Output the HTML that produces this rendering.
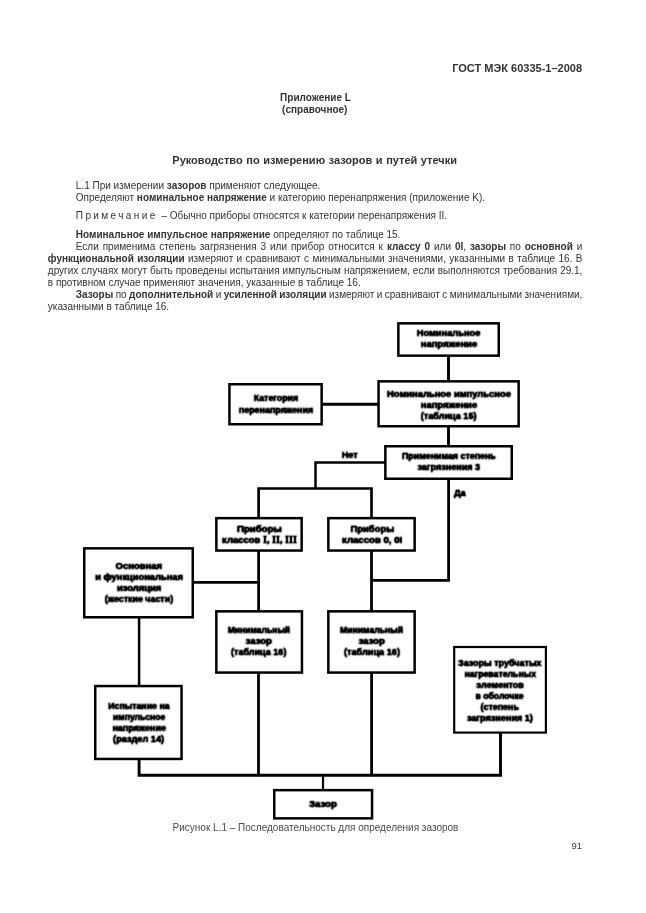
<!DOCTYPE html>
<html lang="ru"><head><meta charset="utf-8"><title>ГОСТ МЭК 60335-1–2008</title>
<style>
html,body{margin:0;padding:0;background:#fff;}
body{width:646px;height:913px;position:relative;overflow:hidden;font-family:"Liberation Sans",sans-serif;}
.t{position:absolute;white-space:nowrap;line-height:12px;}
#pg{position:absolute;left:0;top:0;width:646px;height:913px;will-change:transform;}
svg{position:absolute;left:0;top:0;}
svg rect,svg path{fill:none;stroke:#000;stroke-width:2.5;stroke-linecap:butt;stroke-linejoin:miter;}
svg text{font-family:"Liberation Sans",sans-serif;font-weight:bold;font-size:9.35px;fill:#000;stroke:#000;stroke-width:0.45px;}

svg .sr{font-family:"Liberation Serif",serif;font-size:10px;}
</style></head><body><div id="pg">
<div class="t" style="left:452.2px;top:61.59px;font-size:11px;color:#333;font-weight:bold;">ГОСТ МЭК 60335-1–2008</div>
<div class="t" style="left:280.1px;top:92.34px;font-size:10px;color:#333;font-weight:bold;">Приложение L</div>
<div class="t" style="left:282.1px;top:103.53px;font-size:10px;color:#333;font-weight:bold;">(справочное)</div>
<div class="t" style="left:172.3px;top:153.99px;font-size:11px;color:#333;font-weight:bold;word-spacing:0.500px;">Руководство по измерению зазоров и путей утечки</div>
<div class="t" style="left:75.8px;top:180.24px;font-size:10px;color:#333;">L.1 При измерении <b>зазоров</b> применяют следующее.</div>
<div class="t" style="left:75.8px;top:192.13px;font-size:10px;color:#333;">Определяют <b>номинальное напряжение</b> и категорию перенапряжения (приложение K).</div>
<div class="t" style="left:75.8px;top:209.94px;font-size:10px;color:#333;"><span style="letter-spacing:2.4px;margin-right:1px">Примечание</span> – Обычно приборы относятся к категории перенапряжения II.</div>
<div class="t" style="left:75.8px;top:228.74px;font-size:10px;color:#333;"><b>Номинальное импульсное напряжение</b> определяют по таблице 15.</div>
<div class="t" style="left:75.8px;top:241.03px;font-size:10px;color:#333;word-spacing:1.125px;">Если применима степень загрязнения 3 или прибор относится к <b>классу 0</b> или <b>0I</b>, <b>зазоры</b> по <b>основной</b> и</div>
<div class="t" style="left:47.8px;top:253.03px;font-size:10px;color:#333;word-spacing:0.575px;"><b>функциональной изоляции</b> измеряют и сравнивают с минимальными значениями, указанными в таблице 16. В</div>
<div class="t" style="left:47.8px;top:264.94px;font-size:10px;color:#333;word-spacing:0.218px;">других случаях могут быть проведены испытания импульсным напряжением, если выполняются требования 29.1,</div>
<div class="t" style="left:47.8px;top:276.94px;font-size:10px;color:#333;">в противном случае применяют значения, указанные в таблице 16.</div>
<div class="t" style="left:75.8px;top:289.13px;font-size:10px;color:#333;word-spacing:-0.359px;"><b>Зазоры</b> по <b>дополнительной</b> и <b>усиленной изоляции</b> измеряют и сравнивают с минимальными значениями,</div>
<div class="t" style="left:47.8px;top:301.04px;font-size:10px;color:#333;">указанными в таблице 16.</div>
<div class="t" style="left:172.6px;top:822.03px;font-size:10px;color:#4a4a4a;">Рисунок L.1 – Последовательность для определения зазоров</div>
<div class="t" style="left:571.5px;top:840.31px;font-size:9.5px;color:#3a3a3a;">91</div>
<svg width="646" height="913" viewBox="0 0 646 913">
<rect x="398.35" y="323.35" width="100.40" height="32.30"/>
<rect x="378.55" y="381.35" width="140.10" height="44.90"/>
<rect x="229.45" y="384.25" width="92.20" height="40.00"/>
<rect x="385.35" y="446.25" width="126.40" height="32.50"/>
<rect x="216.35" y="518.15" width="85.30" height="32.40"/>
<rect x="328.35" y="518.15" width="86.30" height="32.40"/>
<rect x="84.25" y="548.35" width="108.50" height="68.90"/>
<rect x="216.35" y="611.35" width="85.60" height="61.20"/>
<rect x="328.35" y="611.35" width="86.30" height="61.20"/>
<rect x="454.20" y="647.00" width="91.70" height="85.60" style="stroke-width:2.2"/>
<rect x="95.25" y="686.05" width="86.30" height="72.90"/>
<rect x="274.25" y="790.15" width="97.80" height="28.20"/>
<path d="M448.5 356L448.5 381" style="stroke-width:2.9"/>
<path d="M448.5 427L448.5 446" style="stroke-width:2.9"/>
<path d="M322 404.3L378 404.3" style="stroke-width:2.9"/>
<path d="M385 462.5L315.5 462.5L315.5 488.4"/>
<path d="M258.6 517.5L258.6 488.5L371.5 488.5L371.5 517.5" style="stroke-width:2.7"/>
<path d="M448.6 479L448.6 580.3L371.5 580.3" style="stroke-width:2.8"/>
<path d="M193 582.4L258.6 582.4" style="stroke-width:2.8"/>
<path d="M258.6 551L258.6 611" style="stroke-width:2.8"/>
<path d="M371.5 551L371.5 611" style="stroke-width:2.8"/>
<path d="M258.5 673L258.5 776.3" style="stroke-width:2.8"/>
<path d="M371.6 673L371.6 776.3" style="stroke-width:2.8"/>
<path d="M139.1 618L139.1 686" style="stroke-width:2.5"/>
<path d="M139.1 759.5L139.1 775.3L500.5 775.3L500.5 733" style="stroke-width:2.9"/>
<path d="M323.0 775L323.0 790" style="stroke-width:2.2"/>
<defs><filter id="bl" x="-2%" y="-2%" width="104%" height="104%"><feConvolveMatrix order="3" kernelMatrix="0.04 0.12 0.04 0.12 0.36 0.12 0.04 0.12 0.04" divisor="1" preserveAlpha="false"/><feComponentTransfer><feFuncA type="linear" slope="1.3" intercept="0"/></feComponentTransfer></filter></defs>
<g class="ft" filter="url(#bl)">
<text x="416.7" y="336.40" textLength="63.7" lengthAdjust="spacingAndGlyphs">Номинальное</text>
<text x="420.7" y="347.35" textLength="56.5" lengthAdjust="spacingAndGlyphs">напряжение</text>
<text x="387.0" y="396.70" textLength="123.9" lengthAdjust="spacingAndGlyphs">Номинальное импульсное</text>
<text x="420.7" y="407.60" textLength="56.5" lengthAdjust="spacingAndGlyphs">напряжение</text>
<text x="420.7" y="418.50" textLength="55.8" lengthAdjust="spacingAndGlyphs">(таблица 15)</text>
<text x="253.7" y="401.40" textLength="44.5" lengthAdjust="spacingAndGlyphs">Категория</text>
<text x="238.8" y="412.50" textLength="74.3" lengthAdjust="spacingAndGlyphs">перенапряжения</text>
<text x="401.9" y="459.20" textLength="93.9" lengthAdjust="spacingAndGlyphs">Применимая степень</text>
<text x="417.4" y="470.30" textLength="62.7" lengthAdjust="spacingAndGlyphs">загрязнения 3</text>
<text x="341.8" y="458.40" textLength="15.9" lengthAdjust="spacingAndGlyphs">Нет</text>
<text x="453.9" y="495.60" textLength="11.7" lengthAdjust="spacingAndGlyphs">Да</text>
<text x="237.0" y="531.60" textLength="44.9" lengthAdjust="spacingAndGlyphs">Приборы</text>
<text x="222.1" y="542.70" textLength="74.8" lengthAdjust="spacingAndGlyphs">классов <tspan class="sr">I, II, III</tspan></text>
<text x="350.6" y="531.90" textLength="43.6" lengthAdjust="spacingAndGlyphs">Приборы</text>
<text x="342.0" y="543.00" textLength="60.2" lengthAdjust="spacingAndGlyphs">классов 0, 0I</text>
<text x="115.6" y="569.40" textLength="46.4" lengthAdjust="spacingAndGlyphs">Основная</text>
<text x="95.2" y="580.43" textLength="87.8" lengthAdjust="spacingAndGlyphs">и функциональная</text>
<text x="116.9" y="591.46" textLength="44.4" lengthAdjust="spacingAndGlyphs">изоляция</text>
<text x="104.8" y="602.49" textLength="68.3" lengthAdjust="spacingAndGlyphs">(жесткие части)</text>
<text x="227.7" y="633.40" textLength="62.4" lengthAdjust="spacingAndGlyphs">Минимальный</text>
<text x="245.6" y="644.40" textLength="26.4" lengthAdjust="spacingAndGlyphs">зазор</text>
<text x="231.0" y="655.40" textLength="55.4" lengthAdjust="spacingAndGlyphs">(таблица 16)</text>
<text x="339.9" y="633.40" textLength="63.2" lengthAdjust="spacingAndGlyphs">Минимальный</text>
<text x="358.4" y="644.40" textLength="26.4" lengthAdjust="spacingAndGlyphs">зазор</text>
<text x="343.9" y="655.40" textLength="56.1" lengthAdjust="spacingAndGlyphs">(таблица 16)</text>
<text x="458.1" y="665.80" textLength="83.5" lengthAdjust="spacingAndGlyphs">Зазоры трубчатых</text>
<text x="464.4" y="676.74" textLength="71.6" lengthAdjust="spacingAndGlyphs">нагревательных</text>
<text x="476.3" y="687.68" textLength="47.6" lengthAdjust="spacingAndGlyphs">элементов</text>
<text x="475.5" y="698.62" textLength="48.1" lengthAdjust="spacingAndGlyphs">в оболочке</text>
<text x="480.5" y="709.56" textLength="38.4" lengthAdjust="spacingAndGlyphs">(степень</text>
<text x="466.9" y="720.50" textLength="66.0" lengthAdjust="spacingAndGlyphs">загрязнения 1)</text>
<text x="108.2" y="709.40" textLength="61.4" lengthAdjust="spacingAndGlyphs">Испытание на</text>
<text x="113.1" y="720.30" textLength="52.2" lengthAdjust="spacingAndGlyphs">импульсное</text>
<text x="112.4" y="731.20" textLength="53.5" lengthAdjust="spacingAndGlyphs">напряжение</text>
<text x="113.1" y="742.10" textLength="51.0" lengthAdjust="spacingAndGlyphs">(раздел 14)</text>
<text x="309.0" y="807.30" textLength="27.9" lengthAdjust="spacingAndGlyphs">Зазор</text>
</g>
</svg>
</div></body></html>
